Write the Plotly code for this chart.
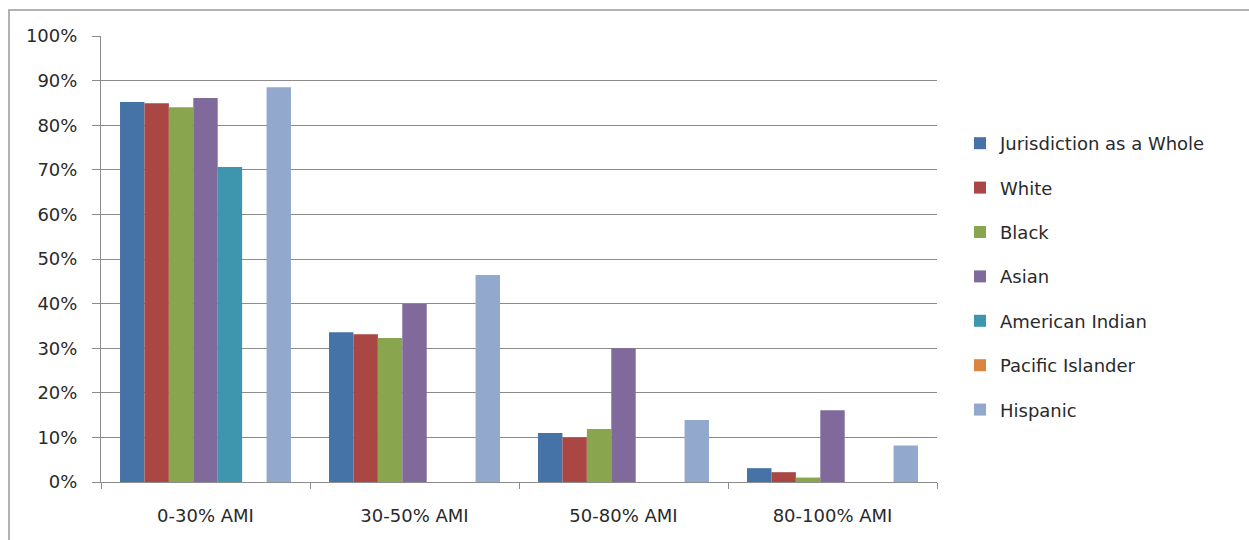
import plotly.graph_objects as go

categories = ["0-30% AMI", "30-50% AMI", "50-80% AMI", "80-100% AMI"]

series_names = ["Jurisdiction as a Whole", "White", "Black", "Asian",
                "American Indian", "Pacific Islander", "Hispanic"]

jurisdiction = [0.852, 0.336, 0.110, 0.031]
white = [0.849, 0.331, 0.100, 0.022]
black = [0.840, 0.323, 0.119, 0.010]
asian = [0.861, 0.399, 0.300, 0.161]
american_indian = [0.706, 0.0, 0.0, 0.0]
pacific_islander = [0.0, 0.0, 0.0, 0.0]
hispanic = [0.885, 0.464, 0.139, 0.082]

series_values = [jurisdiction, white, black, asian,
                 american_indian, pacific_islander, hispanic]

colors = ["#4572A7", "#AA4643", "#89A54E", "#80699B",
          "#3D96AE", "#DB843D", "#92A8CD"]

y_ticks = [i / 10 for i in range(11)]
y_tick_labels = [f"{i * 10}%" for i in range(11)]

font_family = "'DejaVu Sans', Verdana, sans-serif"
text_color = "#2a2a2a"
grid_color = "#8c8c8c"

fig = go.Figure()
for i, (name, vals, col) in enumerate(zip(series_names, series_values, colors)):
    fig.add_trace(go.Bar(
        x=categories,
        y=vals,
        name=name,
        marker=dict(color=col, line=dict(width=0)),
        legendgroup=f"g{i}",
    ))

fig.update_layout(
    width=1249,
    height=540,
    margin=dict(l=101, r=312, t=36, b=58),
    paper_bgcolor="white",
    plot_bgcolor="white",
    barmode="group",
    bargap=0.182,
    bargroupgap=0,
    font=dict(family=font_family, size=18, color=text_color),
    showlegend=True,
    legend=dict(
        x=(960 - 101) / 836, xanchor="left", xref="paper",
        y=(482 - 276.5) / 446, yanchor="middle",
        font=dict(family=font_family, size=18, color=text_color),
        tracegroupgap=18,
        itemwidth=30,
        bgcolor="rgba(0,0,0,0)",
    ),
    xaxis=dict(
        showgrid=False,
        showline=True,
        linecolor=grid_color,
        linewidth=1,
        ticks="outside",
        tickson="boundaries",
        ticklen=6,
        tickcolor=grid_color,
        ticklabelstandoff=17,
        tickfont=dict(family=font_family, size=18, color=text_color),
    ),
    yaxis=dict(
        range=[0, 1],
        tickvals=y_ticks,
        ticktext=y_tick_labels,
        showgrid=True,
        gridcolor=grid_color,
        gridwidth=1,
        showline=True,
        linecolor=grid_color,
        linewidth=1,
        ticks="outside",
        ticklen=8,
        tickcolor=grid_color,
        ticklabelstandoff=11,
        zeroline=False,
        tickfont=dict(family=font_family, size=18, color=text_color),
    ),
)

# chart-area frame (top and left edges fall inside the page)
fig.add_shape(
    type="rect", xref="paper", yref="paper",
    x0=(9 - 101) / 836, x1=(1270 - 101) / 836,
    y0=-0.2, y1=(482 - 10) / 446,
    line=dict(color="#999999", width=1.5),
    fillcolor="rgba(0,0,0,0)",
    layer="below",
)

fig.write_html("out.html")
